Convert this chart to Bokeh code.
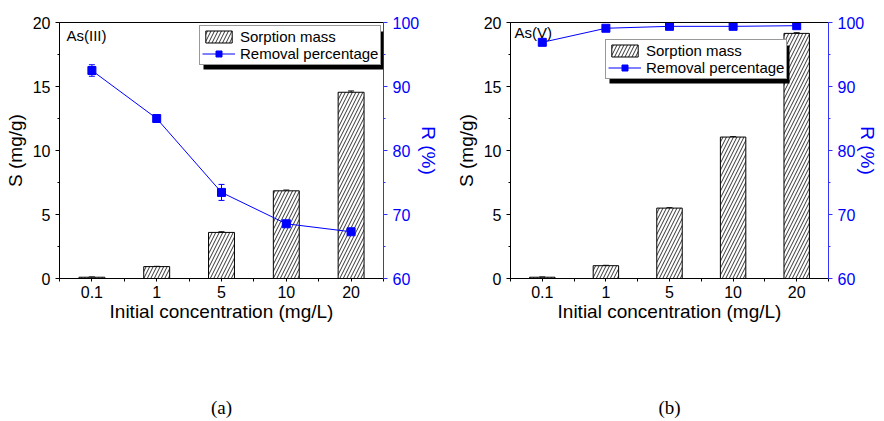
from bokeh.plotting import figure
from bokeh.models import (Range1d, LinearAxis, FixedTicker, SingleIntervalTicker, Whisker,
                          TeeHead, ColumnDataSource, Legend, LegendItem, Label, BoxAnnotation)
from bokeh.layouts import row
from bokeh.embed import file_html
from bokeh.resources import INLINE

# ---------------- data ----------------
categories = ["0.1", "1", "5", "10", "20"]          # initial concentration (mg/L)

s_as3 = [0.10, 0.93, 3.60, 6.85, 14.55]             # sorption mass As(III), mg/g
s_as3_err = [0.02, 0.02, 0.05, 0.06, 0.10]
r_as3 = [92.5, 85.0, 73.45, 68.55, 67.3]            # removal percentage As(III), %
r_as3_err = [0.9, 0.2, 1.25, 0.8, 0.4]

s_as5 = [0.10, 1.00, 5.50, 11.05, 19.15]            # sorption mass As(V), mg/g
s_as5_err = [0.02, 0.03, 0.03, 0.03, 0.05]
r_as5 = [96.9, 99.1, 99.4, 99.4, 99.5]              # removal percentage As(V), %
r_as5_err = [0.2, 0.1, 0.1, 0.1, 0.1]

s_range = (0, 20)
r_range = (60, 100)

# ---------------- styling ----------------
FONT = "Liberation Sans"
SERIF = "Liberation Serif"
BLUE = "#0000ff"
AXBLUE = "#3333ff"
FH = 256
TOP = 22
H = 421
BOTTOM = H - TOP - FH
N = len(categories)


def panel(s, s_err, r, r_err, fw, left_b, right_b, r_title_standoff, leg_xy, tag, tag_off,
          caption):
    xs = list(range(1, N + 1))

    def px_x(px):
        return 0.5 + px * N / fw

    def px_y(py):
        return s_range[0] + py * (s_range[1] - s_range[0]) / FH

    width = left_b + fw + right_b
    p = figure(width=width, height=H, frame_width=fw, frame_height=FH,
               min_border_left=left_b, min_border_right=right_b,
               min_border_top=TOP, min_border_bottom=BOTTOM,
               x_range=Range1d(0.5, N + 0.5), y_range=Range1d(*s_range),
               output_backend="svg", toolbar_location=None, tools="")
    p.extra_y_ranges = {"r": Range1d(*r_range)}
    p.outline_line_color = None
    p.grid.visible = False
    p.background_fill_color = "white"
    p.border_fill_color = "white"

    # bottom axis
    xa = p.xaxis[0]
    xa.ticker = FixedTicker(ticks=xs, minor_ticks=[i + 0.5 for i in range(N + 1)])
    xa.major_label_overrides = {i: c for i, c in zip(xs, categories)}
    xa.axis_label = "Initial concentration (mg/L)"
    xa.axis_label_text_font = FONT
    xa.axis_label_text_font_size = "19px"
    xa.axis_label_text_font_style = "normal"
    xa.axis_label_text_color = "black"
    xa.axis_label_standoff = 0
    xa.major_label_text_font = FONT
    xa.major_label_text_font_size = "16px"
    xa.major_label_text_color = "black"
    xa.major_tick_in = 0
    xa.major_tick_out = 3
    xa.minor_tick_in = 0
    xa.minor_tick_out = 3
    xa.major_label_standoff = 4

    # caption carried by an extra, otherwise invisible, bottom axis
    cap = LinearAxis(ticker=FixedTicker(ticks=[]), axis_line_color=None,
                     major_tick_line_color=None, minor_tick_line_color=None,
                     major_tick_out=0, minor_tick_out=0, major_label_text_font_size="0px",
                     axis_label=caption, axis_label_text_font=SERIF,
                     axis_label_text_font_size="19px", axis_label_text_font_style="normal",
                     axis_label_text_color="black", axis_label_standoff=72)
    p.add_layout(cap, "below")

    # left axis
    ya = p.yaxis[0]
    ya.ticker = SingleIntervalTicker(interval=5, num_minor_ticks=2)
    ya.major_label_text_font = FONT
    ya.major_label_text_font_size = "16px"
    ya.major_label_text_color = "black"
    ya.major_tick_in = 0
    ya.major_tick_out = 4
    ya.minor_tick_in = 0
    ya.minor_tick_out = 2
    ya.axis_label = "S (mg/g)"
    ya.axis_label_text_font = FONT
    ya.axis_label_text_font_size = "19px"
    ya.axis_label_text_font_style = "normal"
    ya.axis_label_text_color = "black"
    ya.axis_label_standoff = 4

    # right axis
    ra = LinearAxis(y_range_name="r", ticker=SingleIntervalTicker(interval=10, num_minor_ticks=2),
                    axis_line_color=AXBLUE, major_tick_line_color=AXBLUE,
                    minor_tick_line_color=AXBLUE, major_label_text_color=BLUE,
                    major_label_text_font=FONT, major_label_text_font_size="16px",
                    major_tick_in=0, major_tick_out=4, minor_tick_in=0, minor_tick_out=2,
                    axis_label="R (%)", axis_label_text_font=FONT,
                    axis_label_text_font_size="19px", axis_label_text_font_style="normal",
                    axis_label_text_color=BLUE, axis_label_standoff=r_title_standoff)
    p.add_layout(ra, "right")

    # top frame line
    ta = LinearAxis(ticker=FixedTicker(ticks=[]), major_label_text_font_size="0px",
                    major_tick_line_color=None, minor_tick_line_color=None,
                    axis_line_color="black")
    p.add_layout(ta, "above")

    # legend shadow (drawn first, below legend)
    lx, ly = leg_xy
    lw, lh = 180, 38
    p.add_layout(BoxAnnotation(left=px_x(lx + 4), right=px_x(lx + lw + 4),
                               bottom=px_y(ly - 4), top=px_y(ly + lh - 4),
                               fill_color="black", fill_alpha=1.0, line_color=None))

    bars = p.vbar(x=xs, top=s, width=0.4, bottom=0, fill_color="white", line_color="black",
                  line_width=1, hatch_pattern="/", hatch_color="black", hatch_scale=7,
                  hatch_weight=0.8)

    src_s = ColumnDataSource(dict(x=xs, lo=[a - b for a, b in zip(s, s_err)],
                                  hi=[a + b for a, b in zip(s, s_err)]))
    p.add_layout(Whisker(base="x", lower="lo", upper="hi", source=src_s, line_color="black",
                         line_width=1,
                         upper_head=TeeHead(size=6, line_color="black", line_width=1),
                         lower_head=TeeHead(size=6, line_color="black", line_width=1)))

    line = p.line(x=xs, y=r, y_range_name="r", line_color=BLUE, line_width=1)
    src_r = ColumnDataSource(dict(x=xs, lo=[a - b for a, b in zip(r, r_err)],
                                  hi=[a + b for a, b in zip(r, r_err)]))
    p.add_layout(Whisker(base="x", lower="lo", upper="hi", source=src_r, y_range_name="r",
                         line_color=BLUE, line_width=1,
                         upper_head=TeeHead(size=6, line_color=BLUE, line_width=1),
                         lower_head=TeeHead(size=6, line_color=BLUE, line_width=1)))
    pts = p.scatter(x=xs, y=r, y_range_name="r", marker="square", size=8,
                    fill_color=BLUE, line_color=BLUE)

    legend = Legend(items=[LegendItem(label="Sorption mass", renderers=[bars]),
                           LegendItem(label="Removal percentage", renderers=[line, pts])],
                    location=leg_xy, orientation="vertical",
                    label_text_font=FONT, label_text_font_size="15px",
                    label_text_color="black",
                    glyph_width=33, glyph_height=15, label_height=15,
                    label_standoff=5, padding=2, spacing=0, margin=0,
                    border_line_color="#333333", border_line_width=1,
                    background_fill_color="white", background_fill_alpha=1.0)
    p.add_layout(legend)

    # sample tag
    p.add_layout(Label(x=0.5, y=s_range[1], x_offset=tag_off[0], y_offset=tag_off[1],
                       text=tag, text_font=FONT, text_font_size="15px",
                       text_baseline="middle", text_align="left", text_color="black"))
    return p


p1 = panel(s_as3, s_as3_err, r_as3, r_as3_err, 324, 59, 58, -4, (140, 213), "As(III)",
           (7, -13), "(a)")
p2 = panel(s_as5, s_as5_err, r_as5, r_as5_err, 318, 68, 57, -10, (95, 199), "As(V)",
           (4, -10), "(b)")

layout = row(p1, p2)
open("out.html", "w").write(file_html(layout, INLINE))
